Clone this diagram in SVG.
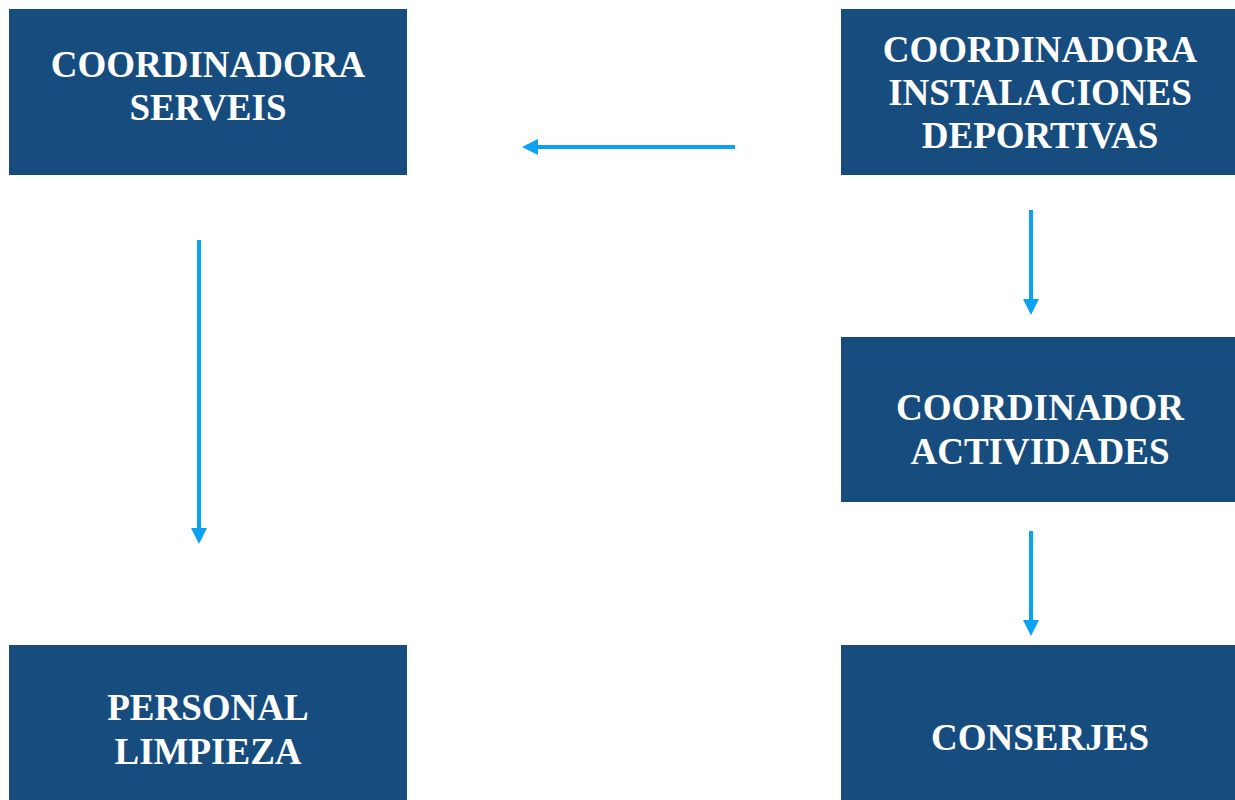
<svg xmlns="http://www.w3.org/2000/svg" width="1235" height="800" viewBox="0 0 1235 800">
<style>
.box{fill:#174C7E}
.t{font-family:"Liberation Serif","Times New Roman",serif;font-weight:bold;font-size:37px;fill:#FFFFFF;text-anchor:middle}
.c{stroke:#0AA2F5;stroke-width:4;fill:none}
</style>
<defs>
<marker id="ah" viewBox="0 0 16 16" refX="0" refY="8" markerWidth="16" markerHeight="16" markerUnits="userSpaceOnUse" orient="auto">
<path d="M0,0 L16,8 L0,16 Z" fill="#0AA2F5"/>
</marker>
</defs>
<rect width="1235" height="800" fill="#FFFFFF"/>
<g id="n1"><rect class="box" x="9" y="9" width="398" height="166"/><text class="t" x="208" y="77">COORDINADORA</text><text class="t" x="208" y="120">SERVEIS</text></g>
<g id="n2"><rect class="box" x="841" y="9" width="394" height="166"/><text class="t" x="1040" y="62">COORDINADORA</text><text class="t" x="1040" y="105">INSTALACIONES</text><text class="t" x="1040" y="148">DEPORTIVAS</text></g>
<g id="n3"><rect class="box" x="841" y="337" width="394" height="165"/><text class="t" x="1040" y="420">COORDINADOR</text><text class="t" x="1040" y="464">ACTIVIDADES</text></g>
<g id="n4"><rect class="box" x="9" y="645" width="398" height="155"/><text class="t" x="208" y="720">PERSONAL</text><text class="t" x="208" y="764">LIMPIEZA</text></g>
<g id="n5"><rect class="box" x="841" y="645" width="394" height="155"/><text class="t" x="1040" y="750">CONSERJES</text></g>
<g id="connectors">
<line class="c" x1="735" y1="147" x2="538" y2="147" marker-end="url(#ah)"/>
<line class="c" x1="199" y1="240" x2="199" y2="528" marker-end="url(#ah)"/>
<line class="c" x1="1031" y1="210" x2="1031" y2="299" marker-end="url(#ah)"/>
<line class="c" x1="1031" y1="531" x2="1031" y2="620" marker-end="url(#ah)"/>
</g>
</svg>
